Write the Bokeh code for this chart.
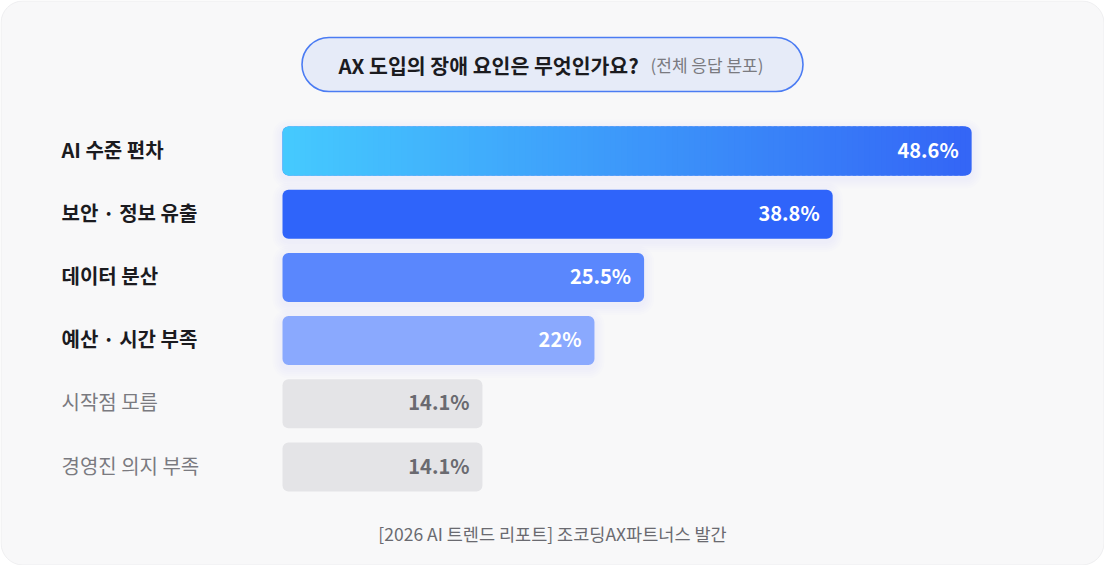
from bokeh.plotting import figure
from bokeh.models import Range1d, ColumnDataSource
from bokeh.core.properties import value
from bokeh.embed import file_html
from bokeh.resources import INLINE

# ---------------- data ----------------
categories = ["AI 수준 편차", "보안 · 정보 유출", "데이터 분산", "예산 · 시간 부족", "시작점 모름", "경영진 의지 부족"]
values = [48.6, 38.8, 25.5, 22, 14.1, 14.1]
value_labels = ["48.6%", "38.8%", "25.5%", "22%", "14.1%", "14.1%"]
bar_start_colors = ["#45c9fe", "#2f64fa", "#5a87fd", "#8aa9fe", "#e4e4e7", "#e4e4e7"]
bar_end_colors = ["#3466f6", "#2f64fa", "#5a87fd", "#8aa9fe", "#e4e4e7", "#e4e4e7"]
label_colors = ["#1b1b1f", "#1b1b1f", "#1b1b1f", "#1b1b1f", "#7a7a80", "#7a7a80"]
label_styles = ["bold", "bold", "bold", "bold", "normal", "normal"]
value_colors = ["#ffffff", "#ffffff", "#ffffff", "#ffffff", "#6a6a70", "#6a6a70"]
highlight = [True, True, True, True, False, False]
title = "AX 도입의 장애 요인은 무엇인가요?"
subtitle = "(전체 응답 분포)"
footer = "[2026 AI 트렌드 리포트] 조코딩AX파트너스 발간"

FONT = value("Noto Sans CJK KR")

# ---------------- layout (screen pixels) ----------------
W, H = 1104, 565
OFF = 0
BAR_X0 = 282.0
K = 14.18          # px per percent
ROW0 = 150.5
STEP = 63.2
BAR_H_PX = 49.0


def sx(px):
    return (px - BAR_X0) / K


def sy(py):
    return (py - ROW0) / STEP


p = figure(width=W, height=H, output_backend="svg", toolbar_location=None,
           x_range=Range1d(sx(OFF), sx(OFF + W)),
           y_range=Range1d(sy(OFF + H), sy(OFF)),
           min_border=0, outline_line_color=None)
p.axis.visible = False
p.grid.visible = False
p.background_fill_color = "#ffffff"
p.border_fill_color = "#ffffff"

# card
p.rect(x=sx(OFF + W / 2), y=sy(OFF + H / 2), width=W - 1, height=H - 1,
       width_units="screen", height_units="screen", border_radius=22,
       fill_color="#f8f8f9", line_color="#eeeef0", line_width=1)

# title pill
p.rect(x=sx(552), y=sy(64), width=501, height=54, width_units="screen", height_units="screen",
       border_radius=27, fill_color="#e6ebf8", line_color="#4b7cf3", line_width=1.6)
p.text(x=[sx(338)], y=[sy(64)], text=[title], text_font=FONT, text_font_size="20.5px",
       text_font_style="bold", text_color="#1b1b1f", text_align="left", text_baseline="middle")
p.text(x=[sx(650)], y=[sy(64)], text=[subtitle], text_font=FONT, text_font_size="17px",
       text_color="#7a7a80", text_align="left", text_baseline="middle")

rows = list(range(len(categories)))
bar_h = BAR_H_PX / STEP
px_x = 1.0 / K
px_y = 1.0 / STEP

# soft shadows under highlighted bars
for layer in range(1, 6):
    ys = [r + 3 * px_y for r, h in zip(rows, highlight) if h]
    rs = [v + 2 * layer * px_x for v, h in zip(values, highlight) if h]
    p.hbar(y=ys, left=-2 * layer * px_x, right=rs, height=bar_h + 4 * layer * px_y,
           fill_color="#3466f6", fill_alpha=0.011, line_color=None, border_radius=6 + 2 * layer)

# bars (end colour, rounded)
p.hbar(y=rows, left=0, right=values, height=bar_h, fill_color=bar_end_colors,
       line_color=None, border_radius=6)

# gradient bars: left cap + interpolated slices
def hex2rgb(c):
    c = c.lstrip("#")
    return tuple(int(c[i:i + 2], 16) for i in (0, 2, 4))


seg = dict(y=[], left=[], right=[], color=[])
caps = dict(y=[], right=[], color=[])
for r, v, c0, c1 in zip(rows, values, bar_start_colors, bar_end_colors):
    if c0 == c1:
        continue
    caps["y"].append(r)
    caps["right"].append(14 * px_x)
    caps["color"].append(c0)
    a0, a1 = 6 * px_x, v - 6 * px_x
    n = 120
    step = (a1 - a0) / n
    r0, r1 = hex2rgb(c0), hex2rgb(c1)
    for i in range(n):
        t = (i + 0.5) / n
        col = "#%02x%02x%02x" % tuple(round(r0[j] + (r1[j] - r0[j]) * t) for j in range(3))
        seg["y"].append(r)
        seg["left"].append(a0 + i * step)
        seg["right"].append(a0 + (i + 1) * step + step * 0.6 if i < n - 1 else a1)
        seg["color"].append(col)
p.hbar(y="y", left=0, right="right", height=bar_h, fill_color="color", line_color=None,
       border_radius=6, source=ColumnDataSource(caps))
p.hbar(y="y", left="left", right="right", height=bar_h, fill_color="color", line_color=None,
       source=ColumnDataSource(seg))

# category labels
src = ColumnDataSource(dict(y=rows, x=[sx(61)] * len(rows), text=categories, color=label_colors,
                            style=label_styles, vx=values, vt=value_labels, vc=value_colors))
p.text(x="x", y="y", text="text", source=src, y_offset=-2, text_font=FONT, text_font_size="20px",
       text_font_style="style", text_color="color", text_align="left", text_baseline="middle")

# value labels
p.text(x="vx", y="y", text="vt", source=src, x_offset=-13, y_offset=-2, text_font=FONT,
       text_font_size="20px", text_font_style="bold", text_color="vc", text_align="right",
       text_baseline="middle")

# footer
p.text(x=[sx(552)], y=[sy(533)], text=[footer], text_font=FONT, text_font_size="17.5px",
       text_color="#6a6a70", text_align="center", text_baseline="middle")

open("out.html", "w").write(file_html(p, INLINE))
